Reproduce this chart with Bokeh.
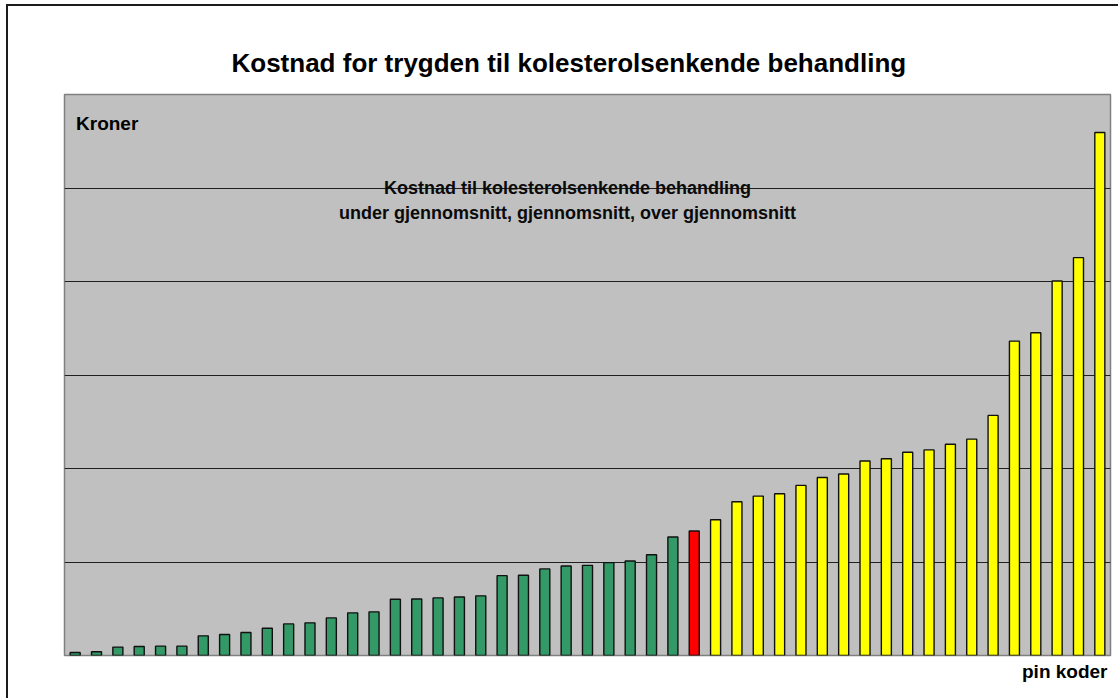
from bokeh.plotting import figure
from bokeh.models import Label, FixedTicker, Grid, Title
from bokeh.embed import file_html
from bokeh.resources import INLINE

# Treatment cost per pin code, sorted ascending (kroner, grid step = 100)
under_avg = [3.2, 4.0, 9.0, 9.6, 10.0, 10.0, 21.0, 22.4, 24.6, 29.2,
             33.8, 34.9, 40.2, 45.6, 46.7, 60.2, 60.5, 61.6, 62.5, 63.8,
             85.4, 85.8, 92.6, 95.7, 96.4, 99.3, 101.0, 107.8, 126.7]
average = [133.1]
over_avg = [145.2, 164.4, 170.5, 173.0, 181.9, 190.4, 194.1, 208.0, 210.5,
            217.4, 219.9, 226.0, 231.4, 256.8, 336.2, 345.2, 400.5, 425.5,
            559.4]
grid_ticks = [100, 200, 300, 400, 500]

title_text = "Kostnad for trygden til kolesterolsenkende behandling"
y_label = "Kroner"
x_label = "pin koder"
note_lines = ["Kostnad til kolesterolsenkende behandling",
              "under gjennomsnitt, gjennomsnitt, over gjennomsnitt"]

n_under, n_avg, n_over = len(under_avg), len(average), len(over_avg)
n_total = n_under + n_avg + n_over
x_under = list(range(1, n_under + 1))
x_avg = list(range(n_under + 1, n_under + n_avg + 1))
x_over = list(range(n_under + n_avg + 1, n_total + 1))

FONT = "Liberation Sans"

p = figure(width=1112, height=694,
           x_range=(0.5, n_total + 0.5), y_range=(0, 600),
           x_axis_location=None, y_axis_location=None,
           output_backend="svg", toolbar_location=None,
           min_border_left=56, min_border_right=10,
           min_border_top=88, min_border_bottom=45)

# outer frame line on the left and top of the chart area
p.styles = {"margin-left": "6px", "margin-top": "4px",
            "border-left": "2px solid #1c1c1c",
            "border-top": "2px solid #1c1c1c"}

p.background_fill_color = "#c0c0c0"
p.border_fill_color = "white"
p.outline_line_color = "#808080"
p.outline_line_width = 1.5

# drop default grids, keep only horizontal value lines
for g in list(p.center):
    if isinstance(g, Grid):
        p.center.remove(g)
p.add_layout(Grid(dimension=1, ticker=FixedTicker(ticks=grid_ticks),
                  grid_line_color="#202020", grid_line_width=1))

bar_w = 0.47
for xs, ys, col in ((x_under, under_avg, "#339966"),
                    (x_avg, average, "#ff0000"),
                    (x_over, over_avg, "#ffff00")):
    p.vbar(x=xs, top=ys, bottom=0, width=bar_w, fill_color=col,
           line_color="#111111", line_width=1.4)

# chart title above the plot area
p.title.text = title_text
p.title.align = "left"
p.title.offset = 167
p.title.standoff = 33
p.title.text_font = FONT
p.title.text_font_style = "bold"
p.title.text_font_size = "26px"
p.title.text_color = "black"

# category axis name under the plot area, right aligned
p.add_layout(Title(text=x_label, align="right", offset=3, standoff=11,
                   vertical_align="top", text_font=FONT,
                   text_font_style="bold", text_font_size="19px",
                   text_color="black"), "below")

p.add_layout(Label(x=1.04, y=568.8, text=y_label, text_align="left",
                   text_baseline="alphabetic", text_font=FONT,
                   text_font_style="bold", text_font_size="19px",
                   text_color="black"))
p.add_layout(Label(x=24.06, y=499.8, text=note_lines[0], text_align="center",
                   text_baseline="alphabetic", text_font=FONT,
                   text_font_style="bold", text_font_size="18px",
                   text_color="#0a0a0a"))
p.add_layout(Label(x=24.06, y=473.1, text=note_lines[1], text_align="center",
                   text_baseline="alphabetic", text_font=FONT,
                   text_font_style="bold", text_font_size="18px",
                   text_color="#0a0a0a"))

open("out.html", "w").write(file_html(p, INLINE))
